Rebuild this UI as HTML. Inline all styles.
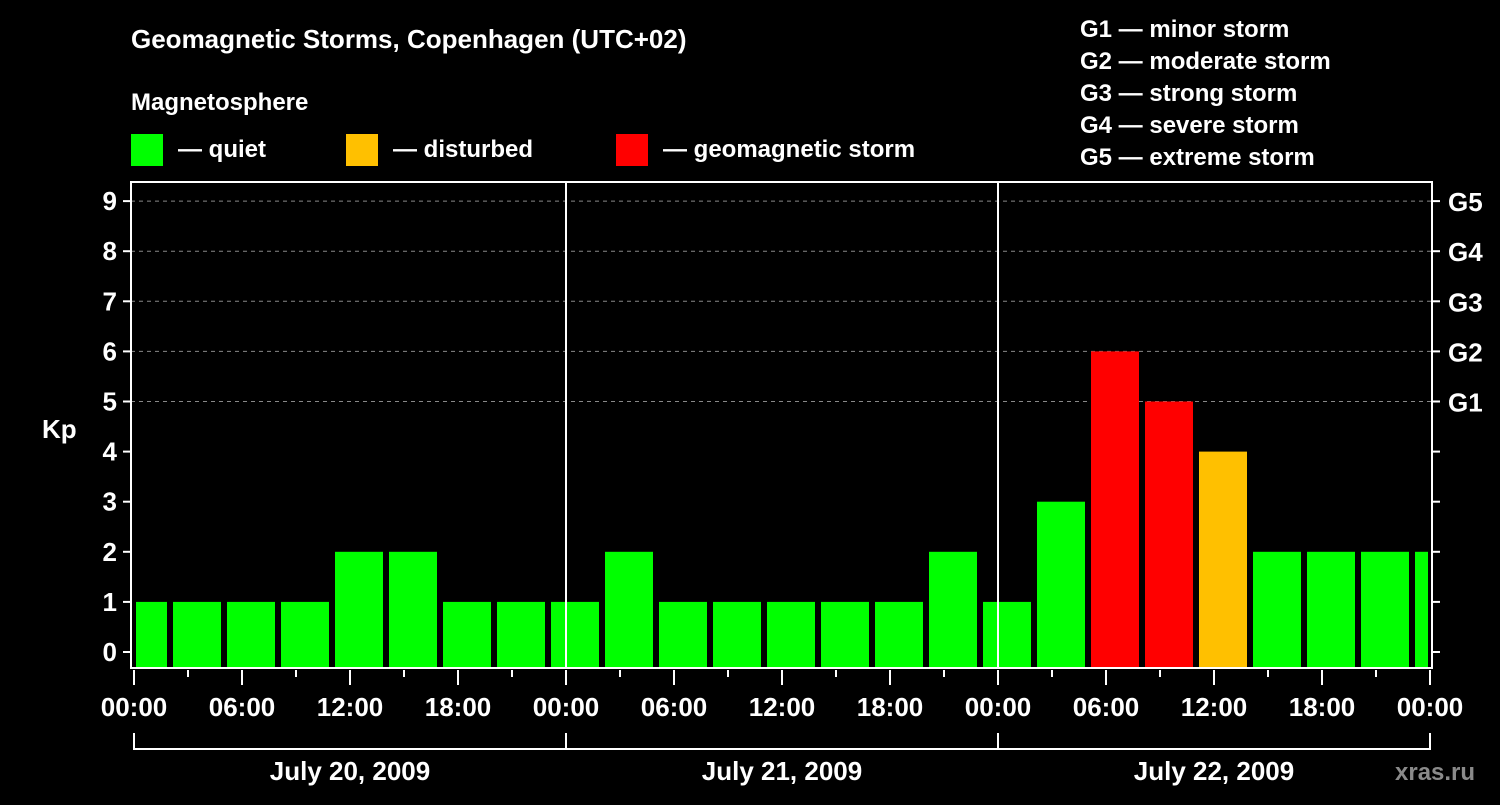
<!DOCTYPE html>
<html><head><meta charset="utf-8"><style>
body{margin:0;background:#000;}
svg text{font-family:"Liberation Sans",Arial,sans-serif;font-weight:bold;fill:#fff;}
</style></head><body>
<svg id="chart" width="1500" height="800" viewBox="0 0 1500 800" xmlns="http://www.w3.org/2000/svg">
<rect width="1500" height="800" fill="#000"/>
<text x="131" y="48" font-size="26">Geomagnetic Storms, Copenhagen (UTC+02)</text>
<text x="131" y="110" font-size="24">Magnetosphere</text>
<g><rect x="131" y="134" width="32" height="32" fill="#00ff00"/><text x="178" y="157" font-size="24">— quiet</text></g>
<g><rect x="346" y="134" width="32" height="32" fill="#ffc000"/><text x="393" y="157" font-size="24">— disturbed</text></g>
<g><rect x="616" y="134" width="32" height="32" fill="#ff0000"/><text x="663" y="157" font-size="24">— geomagnetic storm</text></g>
<g font-size="24">
<text x="1080" y="37">G1 — minor storm</text>
<text x="1080" y="69">G2 — moderate storm</text>
<text x="1080" y="101">G3 — strong storm</text>
<text x="1080" y="133">G4 — severe storm</text>
<text x="1080" y="165">G5 — extreme storm</text>
</g>
<text x="42" y="438" font-size="26">Kp</text>
<text x="1395" y="780" font-size="24" fill="#888" style="fill:#8a8a8a">xras.ru</text>
<g id="plot"></g>
</svg>
<script>
const kpValues=[1,1,1,1,2,2,1,1,1,2,1,1,1,1,1,2,1,3,6,5,4,2,2,2,2];
const yTicks=[0,1,2,3,4,5,6,7,8,9];
const gLabels=["G1","G2","G3","G4","G5"];
const xTickLabels=["00:00","06:00","12:00","18:00","00:00","06:00","12:00","18:00","00:00","06:00","12:00","18:00","00:00"];
const dayLabels=["July 20, 2009","July 21, 2009","July 22, 2009"];
const firstBarOffsetHours=-1; // UTC+02: first 3h bar starts 23:00 previous day
const NS="http://www.w3.org/2000/svg";
const plot=document.getElementById('plot');
const L=131,R=1432,T=182,B=668,X0=134,pxH=18;
const y=v=>652-v*50.1;
const x=h=>X0+h*pxH;
function el(t,a){const e=document.createElementNS(NS,t);for(const k in a)e.setAttribute(k,a[k]);plot.appendChild(e);return e;}
// grid
yTicks.forEach(v=>{if(v>=5){const g=el('line',{x1:L,x2:R,y1:y(v),y2:y(v),stroke:'#888','stroke-dasharray':'4,4','stroke-width':1});

}});
// bars
kpValues.forEach((v,i)=>{const s=x(firstBarOffsetHours+3*i)+3;let x1=Math.max(s,L+5),x2=Math.min(s+48,R-4);if(x2<=x1)return;
const c=v>=5?'#ff0000':(v>=4?'#ffc000':'#00ff00');
const r=el('rect',{x:x1,y:y(v),width:x2-x1,height:B-y(v),fill:c});

});
// day separators
[1,2].forEach(d=>{const l=el('line',{x1:x(24*d),x2:x(24*d),y1:T,y2:B,stroke:'#fff','stroke-width':2});

});
// frame
const f=el('rect',{x:L,y:T,width:R-L,height:B-T,fill:'none',stroke:'#fff','stroke-width':2});


// y ticks
yTicks.forEach(v=>{el('line',{x1:L-8,x2:L,y1:y(v),y2:y(v),stroke:'#fff','stroke-width':2});
el('line',{x1:R,x2:R+8,y1:y(v),y2:y(v),stroke:'#fff','stroke-width':2});
const t=el('text',{x:L-14,y:y(v)+9,'font-size':26,'text-anchor':'end'});t.textContent=v;

});
gLabels.forEach((g,i)=>{const t=el('text',{x:R+16,y:y(5+i)+10,'font-size':26});t.textContent=g;

});
// x ticks
for(let h=0;h<=72;h+=3){const maj=h%6===0;el('line',{x1:x(h),x2:x(h),y1:B+2,y2:B+(maj?17:9),stroke:'#fff','stroke-width':2});}
xTickLabels.forEach((s,i)=>{const t=el('text',{x:x(6*i),y:716,'font-size':26,'text-anchor':'middle'});t.textContent=s;

});
// day brackets
el('path',{d:`M${x(0)} 733 V749 H${x(72)} V733 M${x(24)} 733 V749 M${x(48)} 733 V749`,stroke:'#fff','stroke-width':2,fill:'none'});
dayLabels.forEach((s,i)=>{const t=el('text',{x:x(24*i+12),y:780,'font-size':26,'text-anchor':'middle'});t.textContent=s;

});
</script>
</body></html>
